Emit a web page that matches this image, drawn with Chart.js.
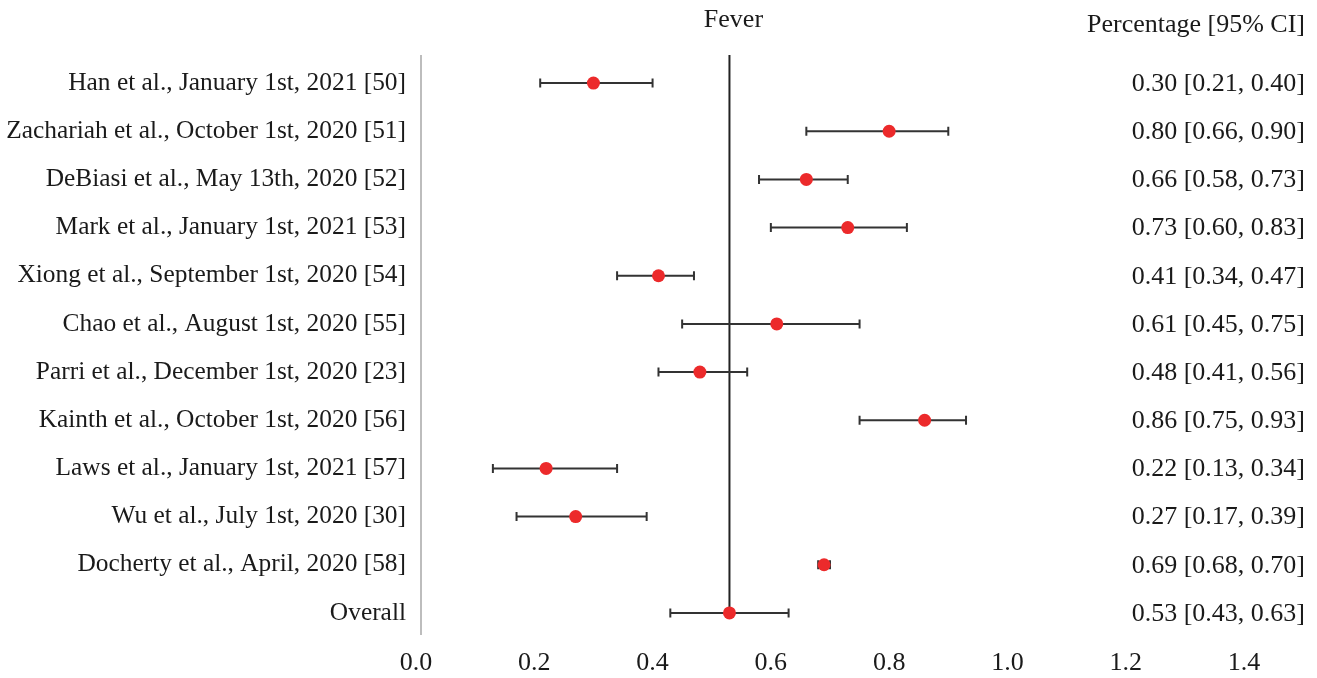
<!DOCTYPE html>
<html>
<head>
<meta charset="utf-8">
<script src="https://cdn.jsdelivr.net/npm/chart.js@4.4.1/dist/chart.umd.min.js"></script>
<style>
html,body{margin:0;padding:0;background:#fff;}
#wrap{width:1317px;height:678px;position:relative;}
</style>
</head>
<body>
<div id="wrap"><canvas id="c" width="1317" height="678"></canvas></div>
<script>
const studies = [
  "Han et al., January 1st, 2021 [50]",
  "Zachariah et al., October 1st, 2020 [51]",
  "DeBiasi et al., May 13th, 2020 [52]",
  "Mark et al., January 1st, 2021 [53]",
  "Xiong et al., September 1st, 2020 [54]",
  "Chao et al., August 1st, 2020 [55]",
  "Parri et al., December 1st, 2020 [23]",
  "Kainth et al., October 1st, 2020 [56]",
  "Laws et al., January 1st, 2021 [57]",
  "Wu et al., July 1st, 2020 [30]",
  "Docherty et al., April, 2020 [58]",
  "Overall"
];
const estimates = [0.30, 0.80, 0.66, 0.73, 0.41, 0.61, 0.48, 0.86, 0.22, 0.27, 0.69, 0.53];
const lowerCI   = [0.21, 0.66, 0.58, 0.60, 0.34, 0.45, 0.41, 0.75, 0.13, 0.17, 0.68, 0.43];
const upperCI   = [0.40, 0.90, 0.73, 0.83, 0.47, 0.75, 0.56, 0.93, 0.34, 0.39, 0.70, 0.63];
const xTicks = [0.0, 0.2, 0.4, 0.6, 0.8, 1.0, 1.2, 1.4];
const chartTitle = "Fever";
const rightHeader = "Percentage [95% CI]";

const FONT = "'Liberation Serif', 'Times New Roman', serif";
const FSIZE = 26;
const TEXT = "#1a1a1a";

const forestPlugin = {
  id: 'forest',
  beforeDatasetsDraw(chart) {
    const {ctx, chartArea, scales} = chart;
    const xs = scales.x, ys = scales.y;
    ctx.save();
    // left axis line (grey)
    ctx.strokeStyle = '#bdbdbd';
    ctx.lineWidth = 2;
    ctx.beginPath();
    ctx.moveTo(chartArea.left + 5, chartArea.top - 4);
    ctx.lineTo(chartArea.left + 5, chartArea.bottom - 2);
    ctx.stroke();
    // reference line at overall estimate
    const oi = studies.length - 1;
    const xo = xs.getPixelForValue(estimates[oi]);
    ctx.strokeStyle = '#222';
    ctx.lineWidth = 2;
    ctx.beginPath();
    ctx.moveTo(xo, chartArea.top - 4);
    ctx.lineTo(xo, ys.getPixelForValue(oi));
    ctx.stroke();
    // error bars
    ctx.strokeStyle = '#333';
    ctx.lineWidth = 2;
    for (let i = 0; i < studies.length; i++) {
      const y = ys.getPixelForValue(i);
      const x1 = xs.getPixelForValue(lowerCI[i]);
      const x2 = xs.getPixelForValue(upperCI[i]);
      ctx.beginPath();
      ctx.moveTo(x1, y); ctx.lineTo(x2, y);
      ctx.moveTo(x1, y - 4.5); ctx.lineTo(x1, y + 4.5);
      ctx.moveTo(x2, y - 4.5); ctx.lineTo(x2, y + 4.5);
      ctx.stroke();
    }
    ctx.restore();
  },
  afterDraw(chart) {
    const {ctx, scales} = chart;
    const xs = scales.x, ys = scales.y;
    ctx.save();
    ctx.fillStyle = TEXT;
    ctx.font = FSIZE + "px " + FONT;
    ctx.textBaseline = 'middle';
    ctx.textAlign = 'center';
    ctx.fillText(chartTitle, xs.getPixelForValue(estimates[estimates.length - 1]) + 4, 20);
    ctx.textAlign = 'right';
    ctx.fillText(rightHeader, 1305, 25);
    for (let i = 0; i < studies.length; i++) {
      const y = ys.getPixelForValue(i) + 1;
      const s = estimates[i].toFixed(2) + " [" + lowerCI[i].toFixed(2) + ", " + upperCI[i].toFixed(2) + "]";
      ctx.fillText(s, 1305, y);
    }
    ctx.restore();
  }
};

new Chart(document.getElementById('c'), {
  type: 'scatter',
  data: {
    datasets: [{
      data: studies.map((s, i) => ({x: estimates[i], y: s})),
      backgroundColor: '#ec2a2b',
      borderColor: '#ec2a2b',
      borderWidth: 0,
      pointRadius: 6.5,
      pointHoverRadius: 6.5
    }]
  },
  options: {
    responsive: false,
    animation: false,
    layout: {padding: {top: 59, right: 73, left: 0, bottom: 0}},
    plugins: {legend: {display: false}, tooltip: {enabled: false}},
    scales: {
      x: {
        type: 'linear',
        min: 0, max: 1.4,
        afterBuildTicks(scale) { scale.ticks = xTicks.map(v => ({value: v})); },
        afterFit(scale) { scale.height = 41; },
        grid: {display: false, drawTicks: false},
        border: {display: false},
        ticks: {
          padding: 11,
          color: TEXT,
          font: {family: FONT, size: FSIZE},
          maxRotation: 0,
          autoSkip: false,
          callback: (v) => Number(v).toFixed(1)
        }
      },
      y: {
        type: 'category',
        labels: studies,
        offset: true,
        afterFit(scale) { scale.width = 416; },
        grid: {display: false, drawTicks: false},
        border: {display: false},
        ticks: {
          padding: 10,
          color: TEXT,
          font: {family: FONT, size: 25.4},
          autoSkip: false
        }
      }
    }
  },
  plugins: [forestPlugin]
});
</script>
</body>
</html>
